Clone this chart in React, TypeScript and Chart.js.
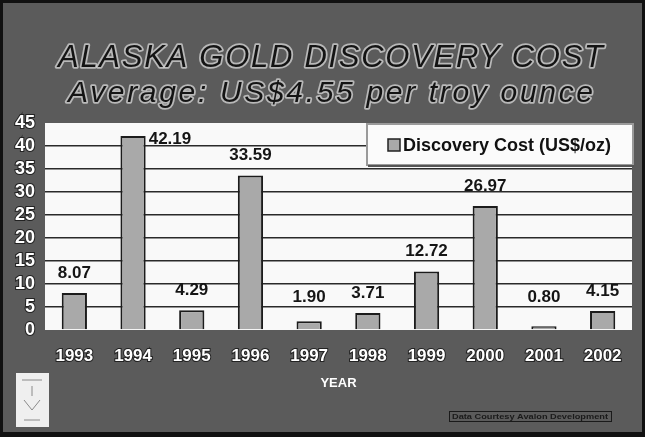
import React, { useEffect, useRef } from "react";
import { Chart, registerables } from "chart.js";

Chart.register(...registerables);

const years = ["1993", "1994", "1995", "1996", "1997", "1998", "1999", "2000", "2001", "2002"];
const discoveryCost = [8.07, 42.19, 4.29, 33.59, 1.9, 3.71, 12.72, 26.97, 0.8, 4.15];
const yTickStep = 5;
const yMax = 45;
const seriesLabel = "Discovery Cost (US$/oz)";
const titleLine1 = "ALASKA GOLD DISCOVERY COST";
const titleLine2 = "Average: US$4.55 per troy ounce";
const axisTitle = "YEAR";
const sourceNote = "Data Courtesy Avalon Development";

const FONT = "'Liberation Sans', Arial, Helvetica, sans-serif";

const decorPlugin = {
  id: "decor",
  beforeDraw(chart: any) {
    const { ctx, width, height, chartArea } = chart;
    ctx.save();
    ctx.fillStyle = "#5b5b5b";
    ctx.fillRect(0, 0, width, height);
    ctx.fillStyle = "#f9f9f9";
    ctx.fillRect(chartArea.left, chartArea.top, chartArea.right - chartArea.left, chartArea.bottom - chartArea.top);
    ctx.restore();
  },
  afterDatasetsDraw(chart: any) {
    const { ctx, chartArea } = chart;
    const meta = chart.getDatasetMeta(0);
    const values = chart.data.datasets[0].data as number[];
    ctx.save();
    ctx.font = `bold 17px ${FONT}`;
    ctx.fillStyle = "#151515";
    ctx.textBaseline = "middle";
    meta.data.forEach((bar: any, i: number) => {
      const txt = values[i].toFixed(2);
      if (bar.y - 30 < chartArea.top) {
        ctx.textAlign = "left";
        ctx.fillText(txt, bar.x + bar.width / 2 + 3, bar.y + 3);
      } else {
        ctx.textAlign = "center";
        ctx.fillText(txt, bar.x, Math.min(bar.y - 20, chartArea.bottom - 33));
      }
    });
    ctx.restore();
  },
  afterDraw(chart: any) {
    const { ctx, width, height } = chart;
    ctx.save();
    const drawSpaced = (text: string, font: string, x0: number, x1: number, base: number) => {
      ctx.save();
      ctx.font = font;
      (ctx as any).letterSpacing = "0px";
      const w = ctx.measureText(text).width;
      const ls = Math.max(0, (x1 - x0 - w) / (text.length - 1));
      (ctx as any).letterSpacing = `${ls}px`;
      ctx.textAlign = "left";
      ctx.textBaseline = "alphabetic";
      ctx.lineJoin = "round";
      ctx.lineWidth = 3.5;
      ctx.strokeStyle = "rgba(215,215,215,0.75)";
      ctx.strokeText(text, x0, base);
      ctx.fillStyle = "#141414";
      ctx.fillText(text, x0, base);
      ctx.restore();
    };
    drawSpaced(titleLine1, `italic 31px ${FONT}`, 58, 603, 67);
    drawSpaced(titleLine2, `italic 30px ${FONT}`, 68, 593, 102);

    // Legend
    ctx.fillStyle = "#fbfbfb";
    ctx.fillRect(367, 124, 266, 41);
    ctx.lineWidth = 2;
    ctx.strokeStyle = "#9a9a9a";
    ctx.strokeRect(367, 124, 266, 41);
    ctx.strokeStyle = "#555";
    ctx.beginPath();
    ctx.moveTo(368, 166);
    ctx.lineTo(634, 166);
    ctx.stroke();
    ctx.fillStyle = "#a9a9a9";
    ctx.fillRect(388, 139, 12, 12);
    ctx.lineWidth = 1.5;
    ctx.strokeStyle = "#222";
    ctx.strokeRect(388, 139, 12, 12);
    ctx.font = `bold 18px ${FONT}`;
    ctx.fillStyle = "#111";
    ctx.textAlign = "left";
    ctx.textBaseline = "middle";
    ctx.fillText(chart.data.datasets[0].label, 403, 146);

    // Logo box
    ctx.fillStyle = "#efefef";
    ctx.fillRect(16, 373, 33, 54);
    ctx.strokeStyle = "#8a8a8a";
    ctx.lineWidth = 1;
    ctx.beginPath();
    ctx.moveTo(22, 380); ctx.lineTo(42, 380);
    ctx.moveTo(32, 386); ctx.lineTo(32, 396);
    ctx.moveTo(24, 400); ctx.lineTo(32, 410); ctx.lineTo(40, 400);
    ctx.moveTo(24, 420); ctx.lineTo(40, 420);
    ctx.stroke();

    // Source note
    ctx.strokeStyle = "#1a1a1a";
    ctx.lineWidth = 1;
    ctx.strokeRect(449.5, 411.5, 162, 10);
    ctx.font = `bold 8px ${FONT}`;
    const sw = ctx.measureText(sourceNote).width;
    ctx.save();
    ctx.translate(452, 417);
    ctx.scale(156 / sw, 1);
    ctx.fillStyle = "#1a1a1a";
    ctx.textBaseline = "middle";
    ctx.fillText(sourceNote, 0, 0);
    ctx.restore();

    // Frame
    ctx.strokeStyle = "#111";
    ctx.lineWidth = 3;
    ctx.strokeRect(1.5, 1.5, width - 3, height - 3);
    ctx.fillStyle = "#111";
    ctx.fillRect(0, height - 5, width, 5);
    ctx.restore();
  },
};

export default function App() {
  const ref = useRef<HTMLCanvasElement | null>(null);
  useEffect(() => {
    document.body.style.margin = "0";
    const canvas = ref.current;
    if (!canvas) return;
    const chart = new Chart(canvas, {
      type: "bar",
      data: {
        labels: years,
        datasets: [
          {
            label: seriesLabel,
            data: discoveryCost,
            backgroundColor: "#a9a9a9",
            borderColor: "#1c1c1c",
            borderWidth: 2,
            barPercentage: 0.43,
            categoryPercentage: 1,
          },
        ],
      },
      options: {
        responsive: false,
        animation: false,
        maintainAspectRatio: false,
        layout: { padding: { left: 0, top: 123, right: 13, bottom: 0 } },
        plugins: {
          legend: { display: false },
          title: { display: false },
          tooltip: { enabled: false },
        },
        scales: {
          x: {
            afterFit: (s: any) => {
              s.height = 107;
            },
            grid: { display: false, drawTicks: false },
            border: { display: false },
            ticks: {
              color: "#ffffff",
              font: { family: FONT, size: 17, weight: "bold" },
              textStrokeColor: "#222",
              textStrokeWidth: 2,
              padding: 16,
              maxRotation: 0,
              autoSkip: false,
            },
            title: {
              display: true,
              text: axisTitle,
              color: "#ffffff",
              font: { family: FONT, size: 13, weight: "bold" },
              padding: { top: 0, bottom: 46 },
            },
          },
          y: {
            min: 0,
            max: yMax,
            afterFit: (s: any) => {
              s.width = 45;
            },
            border: { display: false },
            grid: {
              drawTicks: false,
              lineWidth: 1.5,
              color: (c: any) =>
                c.tick && (c.tick.value === 0 || c.tick.value === yMax) ? "rgba(0,0,0,0)" : "#2a2a2a",
            },
            ticks: {
              stepSize: yTickStep,
              autoSkip: false,
              color: "#ffffff",
              font: { family: FONT, size: 18, weight: "bold" },
              textStrokeColor: "#222",
              textStrokeWidth: 2,
              padding: 10,
            },
          },
        },
      },
      plugins: [decorPlugin],
    } as any);
    return () => chart.destroy();
  }, []);
  return (
    <div style={{ width: 645, height: 437 }}>
      <canvas ref={ref} width={645} height={437} style={{ display: "block", width: 645, height: 437 }} />
    </div>
  );
}
